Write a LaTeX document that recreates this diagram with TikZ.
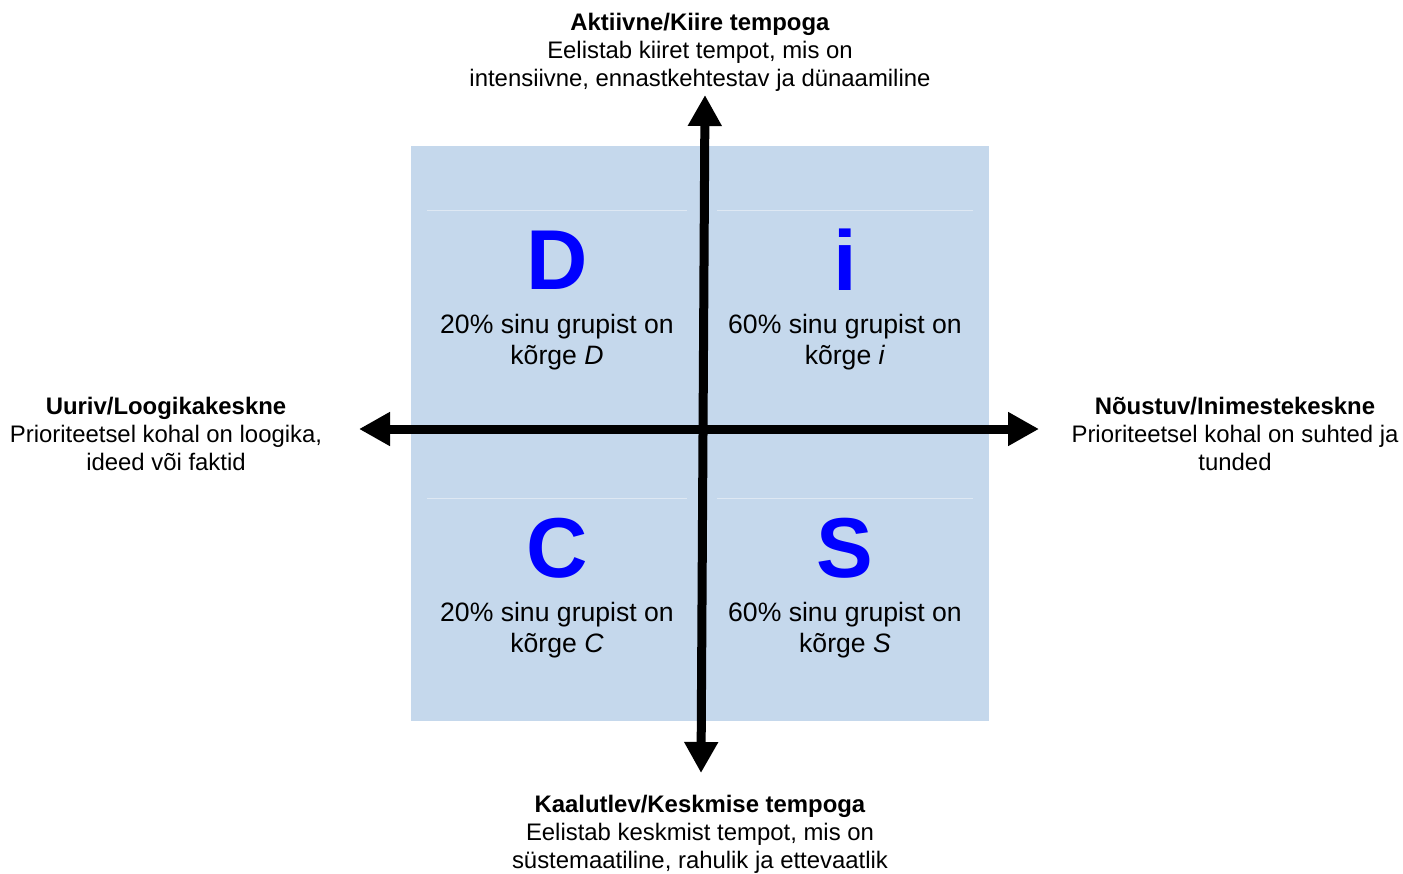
\documentclass[tikz,border=0pt]{standalone}
\usepackage{fontspec}
\setmainfont{Liberation Sans}
\usetikzlibrary{arrows.meta}
\definecolor{quadblue}{RGB}{197,216,236}
\definecolor{sepline}{RGB}{222,232,243}
\definecolor{letterblue}{RGB}{0,0,255}
\tikzset{
  axislabel/.style={align=center, inner sep=0pt, font=\fontsize{23.9}{28}\selectfont},
  quadtext/.style={align=center, inner sep=0pt, font=\fontsize{26.6}{30.5}\selectfont},
  letter/.style={inner sep=0pt, text=letterblue, font=\fontsize{85}{90}\selectfont\bfseries},
  axis/.style={line width=9pt, {Triangle[length=31pt,width=32pt]}-{Triangle[length=31pt,width=32pt]}},
  sep/.style={draw=sepline, line width=1pt}
}
\begin{document}
\begin{tikzpicture}[x=1pt,y=-1pt]
\useasboundingbox (0,0) rectangle (1403,873);
% background square
\fill[quadblue] (411,146) rectangle (989,721);
% thin separator lines
\coordinate (s1a) at (427,210); \coordinate (s1b) at (687,210);
\coordinate (s2a) at (717,210); \coordinate (s2b) at (973,210);
\coordinate (s3a) at (427,498); \coordinate (s3b) at (687,498);
\coordinate (s4a) at (717,498); \coordinate (s4b) at (973,498);
\draw[sep] (s1a) -- (s1b);
\draw[sep] (s2a) -- (s2b);
\draw[sep] (s3a) -- (s3b);
\draw[sep] (s4a) -- (s4b);
% axes
\coordinate (top) at (705,95);
\coordinate (bot) at (701,773);
\coordinate (lft) at (359,429);
\coordinate (rgt) at (1039,429);
\draw[axis] (bot) -- (top);
\draw[axis] (lft) -- (rgt);
% letters
\node[letter] (D) at (557,260) {D};
\node[letter] (I) at (845,260) {i};
\node[letter] (C) at (557,548) {C};
\node[letter] (S) at (845,548) {S};
% quadrant texts
\node[quadtext] (tD) at (557,342) {20\% sinu grupist on\\kõrge \textit{D}};
\node[quadtext] (tI) at (845,342) {60\% sinu grupist on\\kõrge \textit{i}};
\node[quadtext] (tC) at (557,630) {20\% sinu grupist on\\kõrge \textit{C}};
\node[quadtext] (tS) at (845,630) {60\% sinu grupist on\\kõrge \textit{S}};
% axis labels
\node[axislabel] (ltop) at (700,52) {\textbf{Aktiivne/Kiire tempoga}\\Eelistab kiiret tempot, mis on\\intensiivne, ennastkehtestav ja dünaamiline};
\node[axislabel] (lbot) at (700,834) {\textbf{Kaalutlev/Keskmise tempoga}\\Eelistab keskmist tempot, mis on\\süstemaatiline, rahulik ja ettevaatlik};
\node[axislabel] (llft) at (166,434) {\textbf{Uuriv/Loogikakeskne}\\Prioriteetsel kohal on loogika,\\ideed või faktid};
\node[axislabel] (lrgt) at (1235,434) {\textbf{Nõustuv/Inimestekeskne}\\Prioriteetsel kohal on suhted ja\\tunded};
\end{tikzpicture}
\end{document}
